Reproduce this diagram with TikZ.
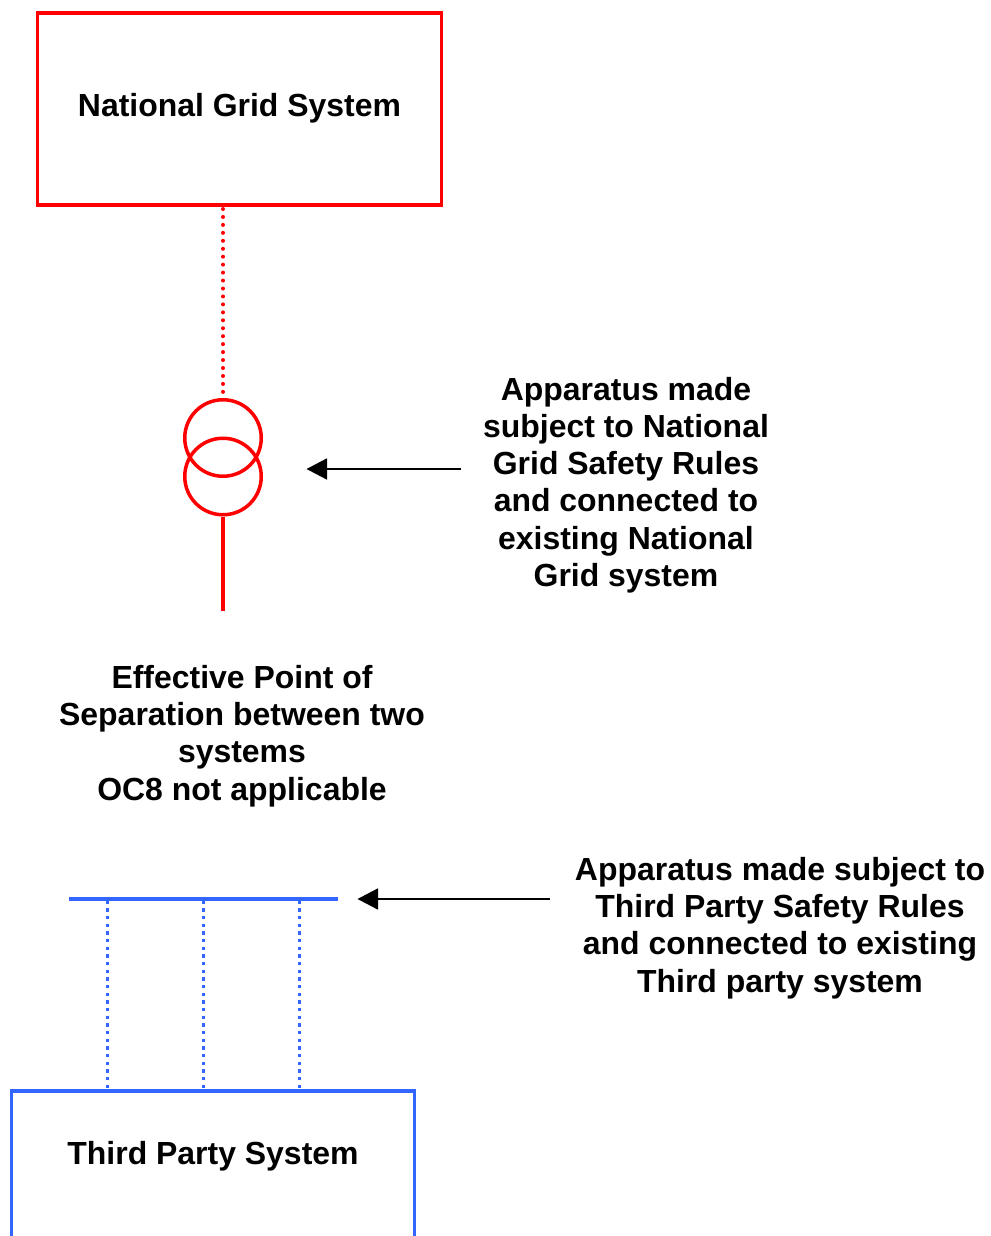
\documentclass[tikz,border=0pt]{standalone}
\usepackage{fontspec}
\setmainfont{Liberation Sans}
\usetikzlibrary{arrows.meta}
\definecolor{gridred}{RGB}{255,0,0}
\definecolor{thirdblue}{RGB}{51,102,255}
\tikzset{x=1pt,y=-1pt,
  lab/.style={font=\fontsize{31.95}{37.2}\selectfont\bfseries,align=center,inner sep=0pt,text=black},
  redline/.style={draw=gridred,line width=3.5pt},
  blueline/.style={draw=thirdblue,line width=3.5pt},
  reddot/.style={draw=gridred,line width=4pt,line cap=round,dash pattern=on 0pt off 7.95pt},
  bluedot/.style={draw=thirdblue,line width=3.4pt,dash pattern=on 3.4pt off 4.27pt},
  pointer/.style={draw=black,line width=1.6pt,-{Triangle[length=20.5pt,width=21pt]}}}
\begin{document}
\begin{tikzpicture}
\useasboundingbox (0,0) rectangle (990,1236);
\node[redline,rectangle,minimum width=404pt,minimum height=192pt,inner sep=0pt] (grid) at (239.5,109) {};
\node[lab] (gridtext) at (239.5,108) {National Grid System};
\node[redline,circle,minimum size=76.5pt,inner sep=0pt] (upper) at (223,438) {};
\node[redline,circle,minimum size=76.5pt,inner sep=0pt] (lower) at (223,476.5) {};
\coordinate (gridfoot) at (223,209);
\coordinate (uppertop) at (223,392);
\draw[reddot] (gridfoot) -- (uppertop);
\coordinate (stem) at (223,611);
\draw[redline] (lower.south) -- (stem);
\node[lab] (app1) at (626,485) {Apparatus made\\subject to National\\Grid Safety Rules\\and connected to\\existing National\\Grid system};
\coordinate (tip1) at (306.5,469);
\coordinate (tail1) at (461,469);
\draw[pointer] (tail1) -- (tip1);
\node[lab] (sep) at (242,736) {Effective Point of\\Separation between two\\systems\\OC8 not applicable};
\coordinate (barl) at (69,899);
\coordinate (barr) at (338,899);
\draw[blueline] (barl) -- (barr);
\node[lab] (app2) at (780,928) {Apparatus made subject to\\Third Party Safety Rules\\and connected to existing\\Third party system};
\coordinate (tip2) at (357.5,899);
\coordinate (tail2) at (550,899);
\draw[pointer] (tail2) -- (tip2);
\coordinate (tl) at (11.5,1236);
\coordinate (tr) at (414.5,1236);
\coordinate (tlt) at (11.5,1091);
\coordinate (trt) at (414.5,1091);
\draw[blueline] (tl) -- (tlt) -- (trt) -- (tr);
\node[lab] (third) at (213,1156) {Third Party System};
\foreach \xx/\nm in {107.7/a,203.7/b,299.7/c}{
  \coordinate (t\nm) at (\xx,900.5);
  \coordinate (b\nm) at (\xx,1089);
  \draw[bluedot] (t\nm) -- (b\nm);
}
\end{tikzpicture}
\end{document}
